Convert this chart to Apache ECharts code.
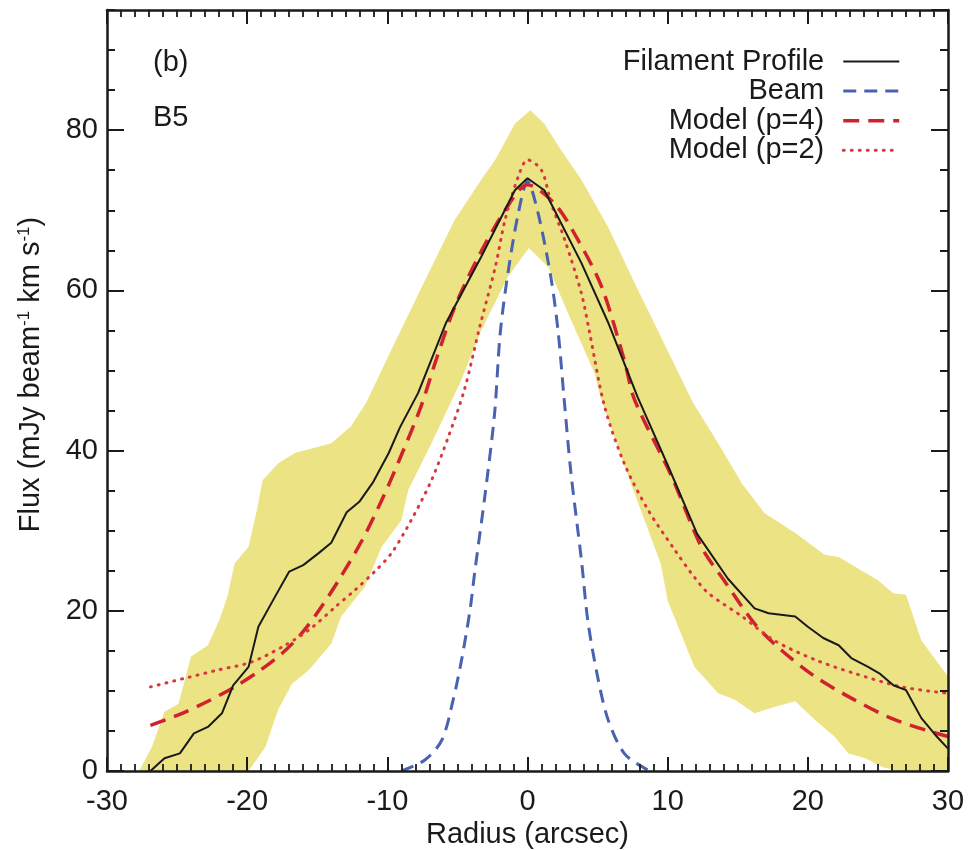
<!DOCTYPE html>
<html>
<head>
<meta charset="utf-8">
<title>B5 filament profile</title>
<style>
  html, body { margin: 0; padding: 0; background: #fff; }
  #chart { width: 969px; height: 850px; }
</style>
<script src="https://cdn.jsdelivr.net/npm/echarts@6/dist/echarts.min.js"></script>
</head>
<body>
<div id="chart"></div>
<script>
"use strict";

// [radius (arcsec), flux]
const profile = [
  [-26.9, 0], [-25.9, 1.6], [-24.8, 2.2], [-23.8, 4.7], [-22.8, 5.5], [-21.8, 7.2],
  [-21.0, 10.7], [-19.9, 13.0], [-19.2, 18.0], [-18.0, 21.8], [-17.0, 24.9], [-16.0, 25.7],
  [-14.9, 27.2], [-14.0, 28.5], [-12.9, 32.3], [-12.0, 33.6], [-11.0, 36.1], [-9.9, 39.7],
  [-9.1, 42.9], [-7.8, 47.2], [-5.8, 56.0], [-3.3, 64.2], [-0.9, 72.5],
  [0, 74.0], [1.2, 72.5], [3.85, 63.4], [5.8, 55.8], [7.85, 46.7],
  [10.0, 38.2], [12.1, 29.6], [14.3, 24.0], [16.2, 20.3], [17.2, 19.7], [19.1, 19.3],
  [20.0, 18.0], [21.1, 16.6], [22.2, 15.7], [23.1, 14.1], [24.3, 13.0], [25.1, 12.2],
  [26.1, 10.7], [27.0, 10.1], [28.1, 6.6], [29.1, 4.5], [30.0, 2.8]
];

const beam = [
  [-9.0, 0], [-7.3, 1.4], [-6.1, 3.9], [-5.3, 8.9], [-4.7, 13.9], [-4.1, 20.1],
  [-3.76, 24.9], [-3.05, 34.2], [-2.35, 44.6], [-1.95, 54.6], [-1.4, 62.1], [-0.66, 69.6],
  [0, 73.6], [0.76, 69.6], [1.7, 61.3], [2.2, 54.6], [2.6, 46.7], [3.1, 37.2],
  [3.85, 26.3], [4.3, 18.8], [5.0, 11.8], [5.75, 6.4], [6.9, 2.2], [8.4, 0.3], [9.0, 0]
];

const modelP4 = [
  [-26.9, 5.7], [-24.9, 7.0], [-22.8, 8.7], [-20.9, 10.5], [-19.2, 12.4], [-17.5, 14.7],
  [-16.1, 17.2], [-14.7, 20.5], [-13.3, 24.3], [-11.8, 28.8], [-10.4, 33.8], [-9.2, 38.6],
  [-7.6, 45.5], [-6.6, 50.9], [-5.2, 57.9], [-3.5, 64.2], [-1.6, 70.0], [0, 73.2],
  [1.95, 70.8], [3.6, 66.3], [5.3, 60.4], [6.9, 51.3], [7.65, 46.3], [10.3, 36.7],
  [12.4, 28.0], [14.1, 23.6], [16.2, 18.4], [18.1, 15.1], [20.5, 11.8], [23.1, 9.1],
  [26.2, 6.4], [30.0, 4.3]
];

const modelP2 = [
  [-26.9, 10.5], [-24.4, 11.6], [-22.1, 12.6], [-19.7, 13.6], [-17.5, 15.5], [-15.6, 17.6],
  [-13.7, 20.5], [-12.3, 22.6], [-10.9, 24.9], [-9.7, 27.2], [-8.3, 31.3], [-6.85, 36.3],
  [-5.65, 41.7], [-4.5, 47.6], [-3.4, 55.5], [-2.3, 62.9], [-1.6, 68.8], [-0.66, 74.2],
  [0, 76.3], [1.0, 75.0], [1.7, 70.8], [2.66, 66.3], [3.85, 59.6], [4.4, 55.0],
  [5.5, 45.5], [6.9, 38.4], [8.6, 32.6], [10.5, 27.6], [11.9, 24.2], [12.9, 22.2],
  [15.3, 19.3], [17.6, 16.3], [20.5, 13.9], [23.3, 12.2], [26.7, 10.5], [30.0, 9.7]
];

// 误差带上沿 / 下沿 (left -> right)
const bandUpper = [
  [-27.7, 0], [-26.8, 3.0], [-25.9, 7.4], [-24.9, 8.4], [-24.0, 14.3], [-22.8, 15.7],
  [-22.0, 18.8], [-21.4, 21.8], [-20.9, 25.9], [-19.9, 28.0], [-19.3, 32.6], [-18.9, 36.3],
  [-17.8, 38.4], [-16.6, 39.7], [-14.0, 40.9], [-12.6, 43.0], [-11.5, 46.0], [-9.6, 53.0],
  [-7.3, 61.3], [-5.2, 68.8], [-3.3, 73.8], [-2.3, 76.3], [-0.9, 80.8], [0.2, 82.5],
  [1.2, 80.8], [2.4, 77.5], [3.85, 73.8], [5.75, 67.9], [7.65, 60.9], [9.3, 55.0],
  [11.8, 46.0], [13.6, 40.9], [15.3, 35.9], [16.9, 32.2], [19.1, 29.7], [21.2, 27.0],
  [22.2, 26.7], [25.0, 23.8], [26.1, 22.2], [27.0, 22.0], [28.1, 16.3], [30.0, 11.8]
];

const bandLower = [
  [-19.9, 0], [-18.7, 3.0], [-17.8, 7.6], [-16.8, 10.9], [-15.6, 12.6], [-14.0, 15.9],
  [-13.3, 19.3], [-11.6, 23.0], [-10.4, 28.0], [-9.0, 31.3], [-8.5, 35.1], [-6.85, 40.9],
  [-4.8, 48.5], [-3.3, 55.0], [-1.4, 61.7], [0.1, 65.3], [1.5, 62.9], [2.9, 57.1],
  [4.8, 49.6], [5.2, 46.7], [7.1, 37.2], [9.5, 25.9], [10.0, 21.3], [11.9, 13.0],
  [13.6, 9.7], [14.8, 8.9], [16.2, 7.2], [17.6, 8.0], [19.1, 8.7], [20.5, 6.4],
  [21.9, 4.3], [22.9, 2.2], [24.1, 1.6], [25.3, 0.5], [26.4, 0], [30.0, 0]
];

const font = "'Liberation Sans', Arial, Helvetica, sans-serif";
const ink = '#1a1a1a';

let myChart = echarts.init(document.getElementById('chart'));

function frameAxis(extra) {
  return Object.assign({
    type: 'value',
    z: 10,
    axisLine: { show: true, onZero: false, lineStyle: { color: ink, width: 2.5 } },
    axisTick: { show: true, inside: true, lineStyle: { color: ink, width: 2 } },
    axisLabel: { show: false },
    splitLine: { show: false },
  }, extra);
}

let option = {
  animation: false,
  backgroundColor: '#fff',
  textStyle: { fontFamily: font },
  grid: { left: 107, right: 21, top: 10, bottom: 79, outerBoundsMode: 'none' },
  graphic: [
    { type: 'text', left: 153, top: 48, style: { text: '(b)', fontSize: 29, fontFamily: font, fill: ink } },
    { type: 'text', left: 153, top: 103, style: { text: 'B5', fontSize: 29, fontFamily: font, fill: ink } },
  ],
  legend: { // 图例
    orient: 'vertical',
    align: 'right',
    right: 68,
    top: 47,
    padding: 0,
    itemWidth: 56,
    itemHeight: 14,
    itemGap: 0.6,
    itemStyle: { opacity: 0 }, // 图例只画线，不画圆点
    textStyle: { fontSize: 29, color: ink, fontFamily: font, padding: [0, 14, 0, 0] },
    data: [
      { name: 'Filament Profile', lineStyle: { width: 2 } },
      { name: 'Beam', lineStyle: { width: 3 } },
      { name: 'Model (p=4)', lineStyle: { width: 3.5 } },
      { name: 'Model (p=2)', lineStyle: { width: 3 } },
    ],
  },
  xAxis: [
    frameAxis({
      min: -30, max: 30, interval: 10, position: 'bottom',
      name: 'Radius (arcsec)', nameLocation: 'middle', nameGap: 47,
      nameTextStyle: { fontSize: 29, color: ink, fontFamily: font },
      axisTick: { show: true, inside: true, length: 14, lineStyle: { color: ink, width: 2 } },
      minorTick: { show: true, splitNumber: 10, length: 7, lineStyle: { color: ink, width: 1.8 } },
      axisLabel: { show: true, fontSize: 29, color: ink, fontFamily: font, margin: 16 },
    }),
    frameAxis({
      min: -30, max: 30, interval: 10, position: 'top',
      axisTick: { show: true, inside: true, length: 14, lineStyle: { color: ink, width: 2 } },
      minorTick: { show: true, splitNumber: 10, length: 7, lineStyle: { color: ink, width: 1.8 } },
    }),
  ],
  yAxis: [
    frameAxis({
      min: 0, max: 95, interval: 20, position: 'left',
      name: 'Flux (mJy beam{sup|-1} km s{sup|-1})', nameLocation: 'middle', nameGap: 62,
      nameTextStyle: {
        fontSize: 29, color: ink, fontFamily: font, padding: [0, 0, 0, 32],
        rich: { sup: { fontSize: 17, color: ink, fontFamily: font, verticalAlign: 'top' } },
      },
      axisTick: { show: true, inside: true, length: 17, lineStyle: { color: ink, width: 2 } },
      axisLabel: { show: true, fontSize: 29, color: ink, fontFamily: font, margin: 9, showMaxLabel: false },
    }),
    frameAxis({
      min: 0, max: 95, interval: 5, position: 'left',
      axisLine: { show: false, onZero: false },
      axisTick: { show: true, inside: true, length: 8, lineStyle: { color: ink, width: 2 } },
    }),
    frameAxis({
      min: 0, max: 95, interval: 20, position: 'right',
      axisTick: { show: true, inside: true, length: 17, lineStyle: { color: ink, width: 2 } },
    }),
    frameAxis({
      min: 0, max: 95, interval: 5, position: 'right',
      axisLine: { show: false, onZero: false },
      axisTick: { show: true, inside: true, length: 8, lineStyle: { color: ink, width: 2 } },
    }),
  ],
  series: [
    {
      name: 'band',
      type: 'custom',
      silent: true,
      clip: true,
      z: 1,
      data: [[0, 0]],
      renderItem: function (params, api) {
        let pts = bandUpper.map(p => api.coord(p));
        bandLower.slice().reverse().forEach(p => pts.push(api.coord(p)));
        return { type: 'polygon', shape: { points: pts }, style: { fill: '#ece385', stroke: null } };
      },
    },
    {
      name: 'Filament Profile',
      type: 'line',
      data: profile,
      symbol: 'none',
      z: 5,
      lineStyle: { color: ink, width: 2 },
      itemStyle: { color: ink },
    },
    {
      name: 'Beam',
      type: 'line',
      data: beam,
      symbol: 'none',
      smooth: 0.3,
      z: 3,
      lineStyle: { color: '#4a62b2', width: 3, type: [13, 8] },
      itemStyle: { color: '#4a62b2' },
    },
    {
      name: 'Model (p=4)',
      type: 'line',
      data: modelP4,
      symbol: 'none',
      smooth: 0.3,
      z: 4,
      lineStyle: { color: '#d0222e', width: 3.5, type: [16, 9] },
      itemStyle: { color: '#d0222e' },
    },
    {
      name: 'Model (p=2)',
      type: 'line',
      data: modelP2,
      symbol: 'none',
      smooth: 0.3,
      z: 4,
      lineStyle: { color: '#d9373f', width: 3, type: [1, 7], cap: 'round' },
      itemStyle: { color: '#d9373f' },
    },
  ],
};

myChart.setOption(option);
</script>
</body>
</html>
